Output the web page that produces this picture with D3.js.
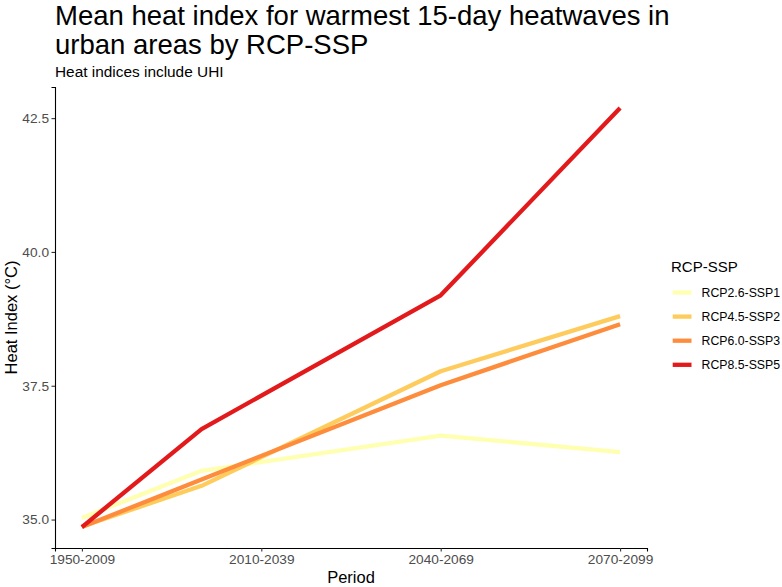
<!DOCTYPE html>
<html>
<head>
<meta charset="utf-8">
<script src="https://cdn.jsdelivr.net/npm/d3@7"></script>
<style>
  body { margin: 0; background: #fff; }
  text { font-family: "Liberation Sans", Arial, sans-serif; }
</style>
</head>
<body>
<svg width="782" height="587"></svg>
<script>
// period labels on the axis and where they sit
const periodTicks = [1, 2, 3, 4];
const periodLabels = ['1950-2009', '2010-2039', '2040-2069', '2070-2099'];

// the data points (second point sits between the first two ticks)
const periodPos = [1, 1.667, 3, 4];

const scenarios = ['RCP2.6-SSP1', 'RCP4.5-SSP2', 'RCP6.0-SSP3', 'RCP8.5-SSP5'];
const colors = ['#FFFFB2', '#FECC5C', '#FD8D3C', '#E31A1C'];

const rcp26 = [35.03, 35.91, 36.57, 36.26];
const rcp45 = [34.87, 35.63, 37.77, 38.80];
const rcp60 = [34.86, 35.75, 37.51, 38.65];
const rcp85 = [34.86, 36.69, 39.19, 42.69];

const yTicks = [35.0, 37.5, 40.0, 42.5];

const seriesVals = [rcp26, rcp45, rcp60, rcp85];

const svg = d3.select('svg');

// plot panel
const pLeft = 55, pRight = 647, pTop = 87, pBottom = 548;

// ggplot style 5% expansion
const xr = d3.extent(periodPos);
const xpad = (xr[1] - xr[0]) * 0.05;
const x = d3.scaleLinear().domain([xr[0] - xpad, xr[1] + xpad]).range([pLeft, pRight]);

const allV = seriesVals.flat();
const yr = d3.extent(allV);
const ypad = (yr[1] - yr[0]) * 0.05;
const y = d3.scaleLinear().domain([yr[0] - ypad, yr[1] + ypad]).range([pBottom, pTop]);

// titles
svg.append('text').attr('x', 55).attr('y', 25)
  .style('font-size', '27.5px').attr('fill', '#000')
  .text('Mean heat index for warmest 15-day heatwaves in');
svg.append('text').attr('x', 55).attr('y', 53.5)
  .style('font-size', '27.5px').attr('fill', '#000')
  .text('urban areas by RCP-SSP');
svg.append('text').attr('x', 55).attr('y', 77)
  .style('font-size', '15.4px').attr('fill', '#000')
  .text('Heat indices include UHI');

// axes
const xAxis = svg.append('g')
  .attr('transform', 'translate(0,' + pBottom + ')')
  .call(d3.axisBottom(x).tickValues(periodTicks)
    .tickFormat((d, i) => periodLabels[i]).tickSize(3.5).tickPadding(2.5));

const yAxis = svg.append('g')
  .attr('transform', 'translate(' + pLeft + ',0)')
  .call(d3.axisLeft(y).tickValues(yTicks)
    .tickFormat(d3.format('.1f')).tickSize(3.5).tickPadding(2.5));

[xAxis, yAxis].forEach(a => {
  a.select('.domain').attr('stroke', '#000').attr('stroke-width', 1.1);
  a.selectAll('.tick line').attr('stroke', '#333').attr('stroke-width', 1.1);
  a.selectAll('.tick text').attr('fill', '#4d4d4d')
    .style('font-size', '13.7px').style('font-family', '"Liberation Sans", Arial, sans-serif');
});

// axis titles
svg.append('text').attr('x', (pLeft + pRight) / 2).attr('y', 583)
  .attr('text-anchor', 'middle').style('font-size', '16.5px').text('Period');
svg.append('text')
  .attr('transform', 'translate(17,' + ((pTop + pBottom) / 2) + ')rotate(-90)')
  .attr('text-anchor', 'middle').style('font-size', '16.5px').text('Heat Index (°C)');

// lines
const line = d3.line()
  .x((d, i) => x(periodPos[i]))
  .y(d => y(d));

svg.append('g').selectAll('path')
  .data(seriesVals)
  .enter().append('path')
  .attr('d', line)
  .attr('fill', 'none')
  .attr('stroke', (d, i) => colors[i])
  .attr('stroke-width', 4.3)
  .attr('stroke-linejoin', 'round');

// legend
const lg = svg.append('g').attr('transform', 'translate(671,0)');
lg.append('text').attr('x', 0).attr('y', 272)
  .style('font-size', '15px').text('RCP-SSP');

const item = lg.selectAll('.item')
  .data(scenarios)
  .enter().append('g').attr('class', 'item')
  .attr('transform', (d, i) => 'translate(0,' + (292.5 + i * 24.1) + ')');

item.append('line')
  .attr('x1', 1.7).attr('x2', 20.5)
  .attr('stroke', (d, i) => colors[i])
  .attr('stroke-width', 4.3);

item.append('text')
  .attr('x', 30.5).attr('y', 4.4)
  .style('font-size', '12.3px').text(d => d);
</script>
</body>
</html>
